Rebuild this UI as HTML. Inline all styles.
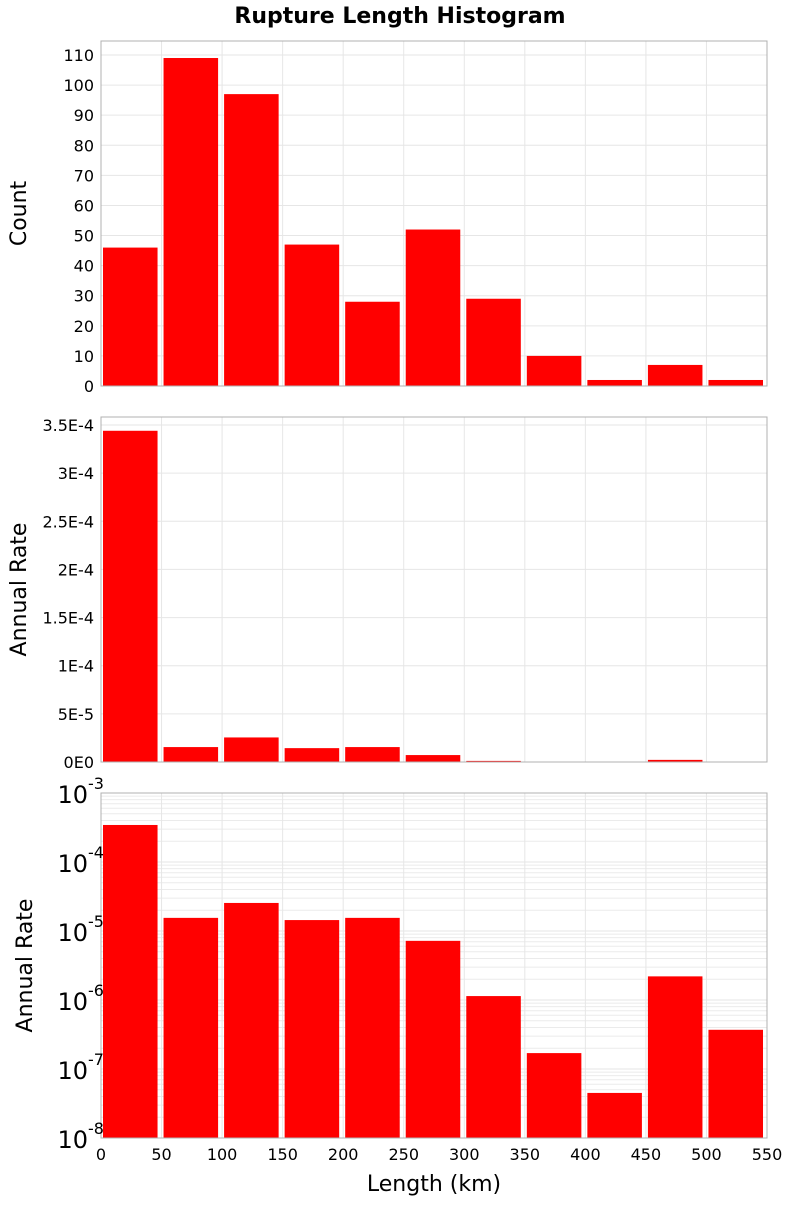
<!DOCTYPE html>
<html><head><meta charset="utf-8"><style>
body{margin:0;background:#fff;font-family:"Liberation Sans","DejaVu Sans",sans-serif}
</style></head><body>
<svg id="c" width="800" height="1200" xmlns="http://www.w3.org/2000/svg" font-family="DejaVu Sans, Liberation Sans, sans-serif">
<text x="400" y="23" text-anchor="middle" font-size="22" font-weight="bold">Rupture Length Histogram</text>
<text x="434" y="1191" text-anchor="middle" font-size="22">Length (km)</text>
</svg>
<script>
const binStarts=[0,50,100,150,200,250,300,350,400,450,500];
const counts=[46,109,97,47,28,52,29,10,2,7,2];
const rates=[3.44e-4,1.55e-5,2.55e-5,1.44e-5,1.55e-5,7.2e-6,1.14e-6,1.7e-7,4.5e-8,2.2e-6,3.7e-7];
const xTicks=[0,50,100,150,200,250,300,350,400,450,500,550];
const countTicks=[0,10,20,30,40,50,60,70,80,90,100,110];
const rateTicks=[0,5e-5,1e-4,1.5e-4,2e-4,2.5e-4,3e-4,3.5e-4];
const rateTickLabels=["0E0","5E-5","1E-4","1.5E-4","2E-4","2.5E-4","3E-4","3.5E-4"];
const logExps=[-8,-7,-6,-5,-4,-3];
const binWidth=50;
const svg=document.getElementById('c');
const NS='http://www.w3.org/2000/svg';
function mk(tag,attrs,parent){const e=document.createElementNS(NS,tag);for(const k in attrs)e.setAttribute(k,attrs[k]);(parent||svg).appendChild(e);return e;}
const L=101,R=767;
const xs=v=>L+(v/550)*(R-L);
function panel(name,top,bot,yfun,ticks,labels,vals,title,logMode){
  const g=mk('g',{});
  
  
  // grid
  if(logMode){
    for(let e=-8;e<-3;e++)for(let m=1;m<10;m++){const y=yfun(m*Math.pow(10,e));const ln=mk('line',{x1:L,x2:R,y1:y,y2:y,stroke:'#ebebeb','stroke-width':1},g);}
  }
  ticks.forEach(t=>{const y=yfun(t);const ln=mk('line',{x1:L,x2:R,y1:y,y2:y,stroke:'#e6e6e6','stroke-width':1},g);});
  xTicks.forEach(t=>{const x=xs(t);const ln=mk('line',{x1:x,x2:x,y1:top,y2:bot,stroke:'#e6e6e6','stroke-width':1},g);});
  // bars
  binStarts.forEach((b,i)=>{const x0=xs(b)+2,x1=xs(b+binWidth)-4;const y=yfun(vals[i]);
    const r=mk('rect',{x:x0,y:y,width:x1-x0,height:Math.max(0,bot-y),fill:'#ff0000'},g);
    });
  const fr=mk('rect',{x:L,y:top,width:R-L,height:bot-top,fill:'none',stroke:'#b0b0b0','stroke-width':1},g);
  
  // tick labels
  ticks.forEach((t,i)=>{const y=yfun(t);
    if(logMode){const tx=mk('text',{x:88,y:y+10,'text-anchor':'end','font-size':24},g);tx.textContent='10';
      
      const sp=mk('text',{x:88,y:y-4,'font-size':16},g);sp.textContent=labels[i];}
    else{const tx=mk('text',{x:94,y:y+6,'text-anchor':'end','font-size':16},g);tx.textContent=labels[i];
      }
  });
  const cy=(top+bot)/2;
  const tt=mk('text',{x:0,y:0,'text-anchor':'middle','font-size':22,transform:`translate(${logMode?32:26},${cy}) rotate(-90)`},g);
  tt.textContent=title;
}
// panel 1
{const top=41,bot=386,pp=(386-55)/110;panel('count-panel',top,bot,v=>bot-v*pp,countTicks,countTicks.map(String),counts,'Count',false);}
// panel 2
{const top=417,bot=762,pp=(762-425)/3.5e-4;panel('rate-linear-panel',top,bot,v=>bot-v*pp,rateTicks,rateTickLabels,rates,'Annual Rate',false);}
// panel 3
{const top=793,bot=1138,dec=(bot-top)/5;const yf=v=>top+(-3-Math.log10(v))*dec;
 panel('rate-log-panel',top,bot,yf,logExps.map(e=>Math.pow(10,e)),logExps.map(String),rates,'Annual Rate',true);}
xTicks.forEach(t=>{const tx=mk('text',{x:xs(t),y:1160,'text-anchor':'middle','font-size':16});tx.textContent=t;
  });
</script>
</body></html>
